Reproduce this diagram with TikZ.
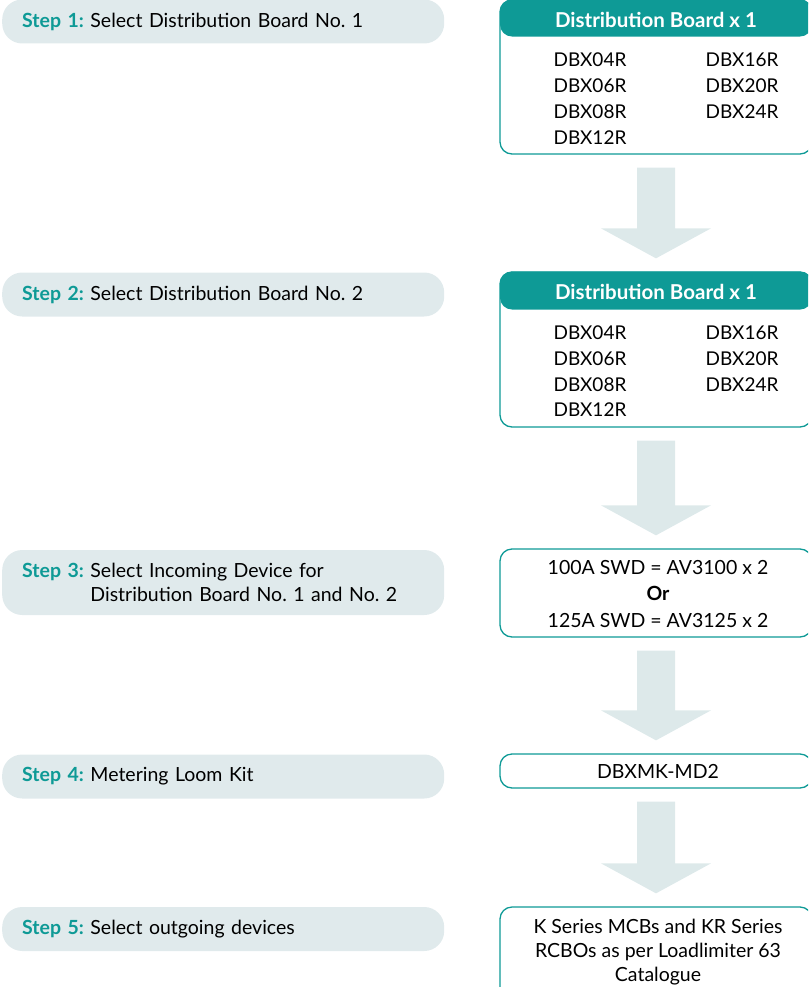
\documentclass[tikz,border=0pt]{standalone}
\usepackage{fontspec}
\setmainfont{Lato}
\usepackage{tikz}
\usetikzlibrary{calc}
\definecolor{dbteal}{RGB}{14,154,150}
\definecolor{stepgrey}{RGB}{224,234,236}
\definecolor{arrowgrey}{RGB}{221,233,234}
\newcommand{\fs}{\fontsize{19.5}{24}\selectfont\frenchspacing}
\newcommand{\fsitem}{\fontsize{19}{24}\selectfont\frenchspacing}
\newcommand{\stepno}[1]{\textcolor{dbteal}{\bfseries Step #1:}}
\newcommand{\flowarrow}[2]{%
  \fill[arrowfill] ($(#1.south)+(-19,13)$) -- ($(#1.south)+(19,13)$) -- ($(#2.north)+(19,-43)$)
    -- ($(#2.north)+(55,-43)$) -- ($(#2.north)+(0,-13)$) -- ($(#2.north)+(-55,-43)$)
    -- ($(#2.north)+(-19,-43)$) -- cycle;}

\begin{document}
\begin{tikzpicture}[x=1pt,y=-1pt,line cap=round,line join=round,
    stepbox/.style={fill=stepgrey,rounded corners=20,minimum height=44,text width=402,
      inner xsep=20,inner ysep=0,align=left,anchor=west,font=\fs},
    boardbox/.style={draw=dbteal,line width=1.3,rounded corners=12,minimum width=312,inner sep=0},
    headbox/.style={fill=dbteal,rounded corners=12,minimum width=312,minimum height=37,
      anchor=north,text=white,text height=18,text depth=0,font=\fontsize{20.5}{24}\selectfont\bfseries},
    item/.style={font=\fsitem,inner sep=0},
    arrowfill/.style={fill=arrowgrey}]
    \useasboundingbox (0,0) rectangle (808,987);
    \clip (0,0) rectangle (808,987);

    \node[stepbox] (s1) at (2,21.5) {\stepno{1} Select Distribution Board No. 1};
    \node[stepbox] (s2) at (2,294.5) {\stepno{2} Select Distribution Board No. 2};
    \node[stepbox,minimum height=65] (s3) at (2,582.5)
        {\stepno{3} Select Incoming Device for\\\hphantom{\stepno{3} }Distribution Board No. 1 and No. 2};
    \node[stepbox] (s4) at (2,776.5) {\stepno{4} Metering Loom Kit};
    \node[stepbox] (s5) at (2,929) {\stepno{5} Select outgoing devices};

    \node[boardbox,minimum height=154] (b1) at (656,77) {};
    \node[headbox] (h1) at (b1.north) {Distribution Board x 1};
    \node[item] (b1a) at (590,60) {DBX04R};
    \node[item] (b1b) at (590,86) {DBX06R};
    \node[item] (b1c) at (590,112) {DBX08R};
    \node[item] (b1d) at (590,138) {DBX12R};
    \node[item] (b1e) at (742,60) {DBX16R};
    \node[item] (b1f) at (742,86) {DBX20R};
    \node[item] (b1g) at (742,112) {DBX24R};

    \node[boardbox,minimum height=155] (b2) at (656,349.5) {};
    \node[headbox,minimum height=38] (h2) at (b2.north) {Distribution Board x 1};
    \node[item] (b2a) at (590,333) {DBX04R};
    \node[item] (b2b) at (590,359) {DBX06R};
    \node[item] (b2c) at (590,385) {DBX08R};
    \node[item] (b2d) at (590,410) {DBX12R};
    \node[item] (b2e) at (742,333) {DBX16R};
    \node[item] (b2f) at (742,359) {DBX20R};
    \node[item] (b2g) at (742,385) {DBX24R};

    \node[boardbox,minimum height=88] (b3) at (656,593) {};
    \node[item,font=\fs,align=center] (t3) at (658,594)
        {100A SWD = AV3100 x 2\\[2.5pt]\textbf{Or}\\[2.5pt]125A SWD = AV3125 x 2};

    \node[boardbox,minimum height=34] (b4) at (656,771) {};
    \node[item,font=\fs] (t4) at (658,771) {DBXMK-MD2};

    \node[boardbox,minimum height=96] (b5) at (656,955) {};
    \node[item,font=\fs,align=center] (t5) at (658,952)
        {K Series MCBs and KR Series\\RCBOs as per Loadlimiter 63\\Catalogue};

    \flowarrow{b1}{b2}
    \flowarrow{b2}{b3}
    \flowarrow{b3}{b4}
    \flowarrow{b4}{b5}
\end{tikzpicture}
\end{document}
